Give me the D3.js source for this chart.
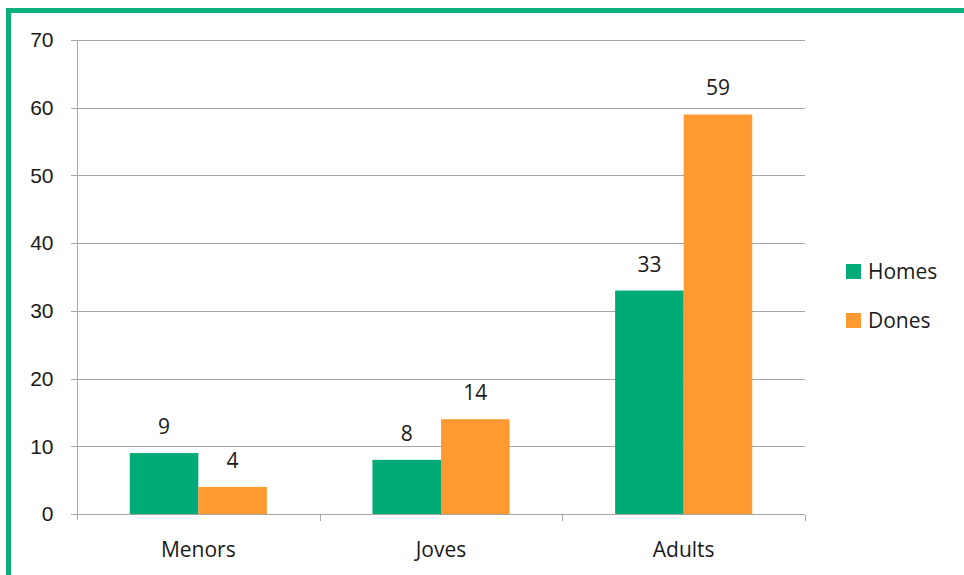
<!DOCTYPE html>
<html lang="ca">
<head>
<meta charset="utf-8">
<script src="https://d3js.org/d3.v7.min.js"></script>
<style>
    body { margin: 0; background: #fff; }
    svg { display: block; font-family: "Open Sans", "Noto Sans", sans-serif; }
    .grid line { stroke: #a6a6a6; stroke-width: 1; shape-rendering: crispEdges; }
    .axis path, .axis line { stroke: #a6a6a6; shape-rendering: crispEdges; }
    .axis text { fill: #1a1a1a; font-size: 21px; }
</style>
</head>
<body>
<svg width="964" height="575"></svg>
<script>
    var categories = ["Menors", "Joves", "Adults"];
    var seriesNames = ["Homes", "Dones"];
    var homes = [9, 8, 33];
    var dones = [4, 14, 59];
    var yTicks = [0, 10, 20, 30, 40, 50, 60, 70];

    var colors = ["#00ab78", "#ff9a33"];
    var values = [homes, dones];

    var svg = d3.select("svg");

    // green frame running off the right and bottom edges
    svg.append("rect")
        .attr("x", 8.5).attr("y", 10.5)
        .attr("width", 1000).attr("height", 600)
        .attr("fill", "none")
        .attr("stroke", "#0db07c")
        .attr("stroke-width", 5);

    var plotLeft = 77, plotRight = 805, plotTop = 40, plotBottom = 514;

    var x = d3.scaleBand().domain(categories).range([plotLeft, plotRight]).paddingInner(0).paddingOuter(0);
    var x1 = d3.scaleBand().domain(seriesNames).range([0, x.bandwidth()]).paddingInner(0).paddingOuter(0.77);
    var y = d3.scaleLinear().domain([0, 70]).range([plotBottom, plotTop]);

    // gridlines
    svg.append("g").attr("class", "grid")
        .selectAll("line")
        .data(yTicks.slice(1))
        .enter().append("line")
        .attr("x1", plotLeft - 6).attr("x2", plotRight)
        .attr("y1", function (d) { return Math.round(y(d)) + 0.5; })
        .attr("y2", function (d) { return Math.round(y(d)) + 0.5; });

    // y axis
    var yAxis = svg.append("g").attr("class", "axis")
        .attr("transform", "translate(" + (plotLeft + 0.5) + ",0)")
        .call(d3.axisLeft(y).tickValues(yTicks).tickSize(6).tickPadding(18));
    yAxis.select(".domain").remove();
    yAxis.append("line").attr("y1", plotTop).attr("y2", plotBottom + 6).attr("stroke", "#a6a6a6");

    // x axis
    var xAxis = svg.append("g").attr("class", "axis")
        .attr("transform", "translate(0," + (plotBottom + 0.5) + ")");
    xAxis.append("line").attr("x1", plotLeft - 6).attr("x2", plotRight).attr("stroke", "#a6a6a6");
    xAxis.selectAll(".tk")
        .data(categories)
        .enter().append("line")
        .attr("x1", function (d, i) { return Math.round(plotLeft + x.bandwidth() * (i + 1)) + 0.5; })
        .attr("x2", function (d, i) { return Math.round(plotLeft + x.bandwidth() * (i + 1)) + 0.5; })
        .attr("y1", 0).attr("y2", 6)
        .attr("stroke", "#a6a6a6");
    xAxis.selectAll("text")
        .data(categories)
        .enter().append("text")
        .attr("x", function (d) { return x(d) + x.bandwidth() / 2; })
        .attr("y", 42)
        .attr("text-anchor", "middle")
        .text(function (d) { return d; });

    // bars
    seriesNames.forEach(function (s, si) {
        var g = svg.append("g");
        g.selectAll("rect")
            .data(values[si])
            .enter().append("rect")
            .attr("x", function (d, i) { return x(categories[i]) + x1(s); })
            .attr("width", x1.bandwidth())
            .attr("y", function (d) { return y(d); })
            .attr("height", function (d) { return y(0) - y(d); })
            .attr("fill", colors[si]);
        g.selectAll("text")
            .data(values[si])
            .enter().append("text")
            .attr("x", function (d, i) { return x(categories[i]) + x1(s) + x1.bandwidth() / 2; })
            .attr("y", function (d) { return y(d) - 19; })
            .attr("text-anchor", "middle")
            .style("font-size", "21px")
            .style("fill", "#1a1a1a")
            .text(function (d) { return d; });
    });

    // legend
    var legend = svg.selectAll(".legend")
        .data(seriesNames)
        .enter().append("g")
        .attr("class", "legend")
        .attr("transform", function (d, i) { return "translate(846," + (264 + i * 49) + ")"; });
    legend.append("rect")
        .attr("width", 15).attr("height", 15)
        .attr("fill", function (d, i) { return colors[i]; });
    legend.append("text")
        .attr("x", 22).attr("y", 15)
        .style("font-size", "21px")
        .style("fill", "#1a1a1a")
        .text(function (d) { return d; });
</script>
</body>
</html>
